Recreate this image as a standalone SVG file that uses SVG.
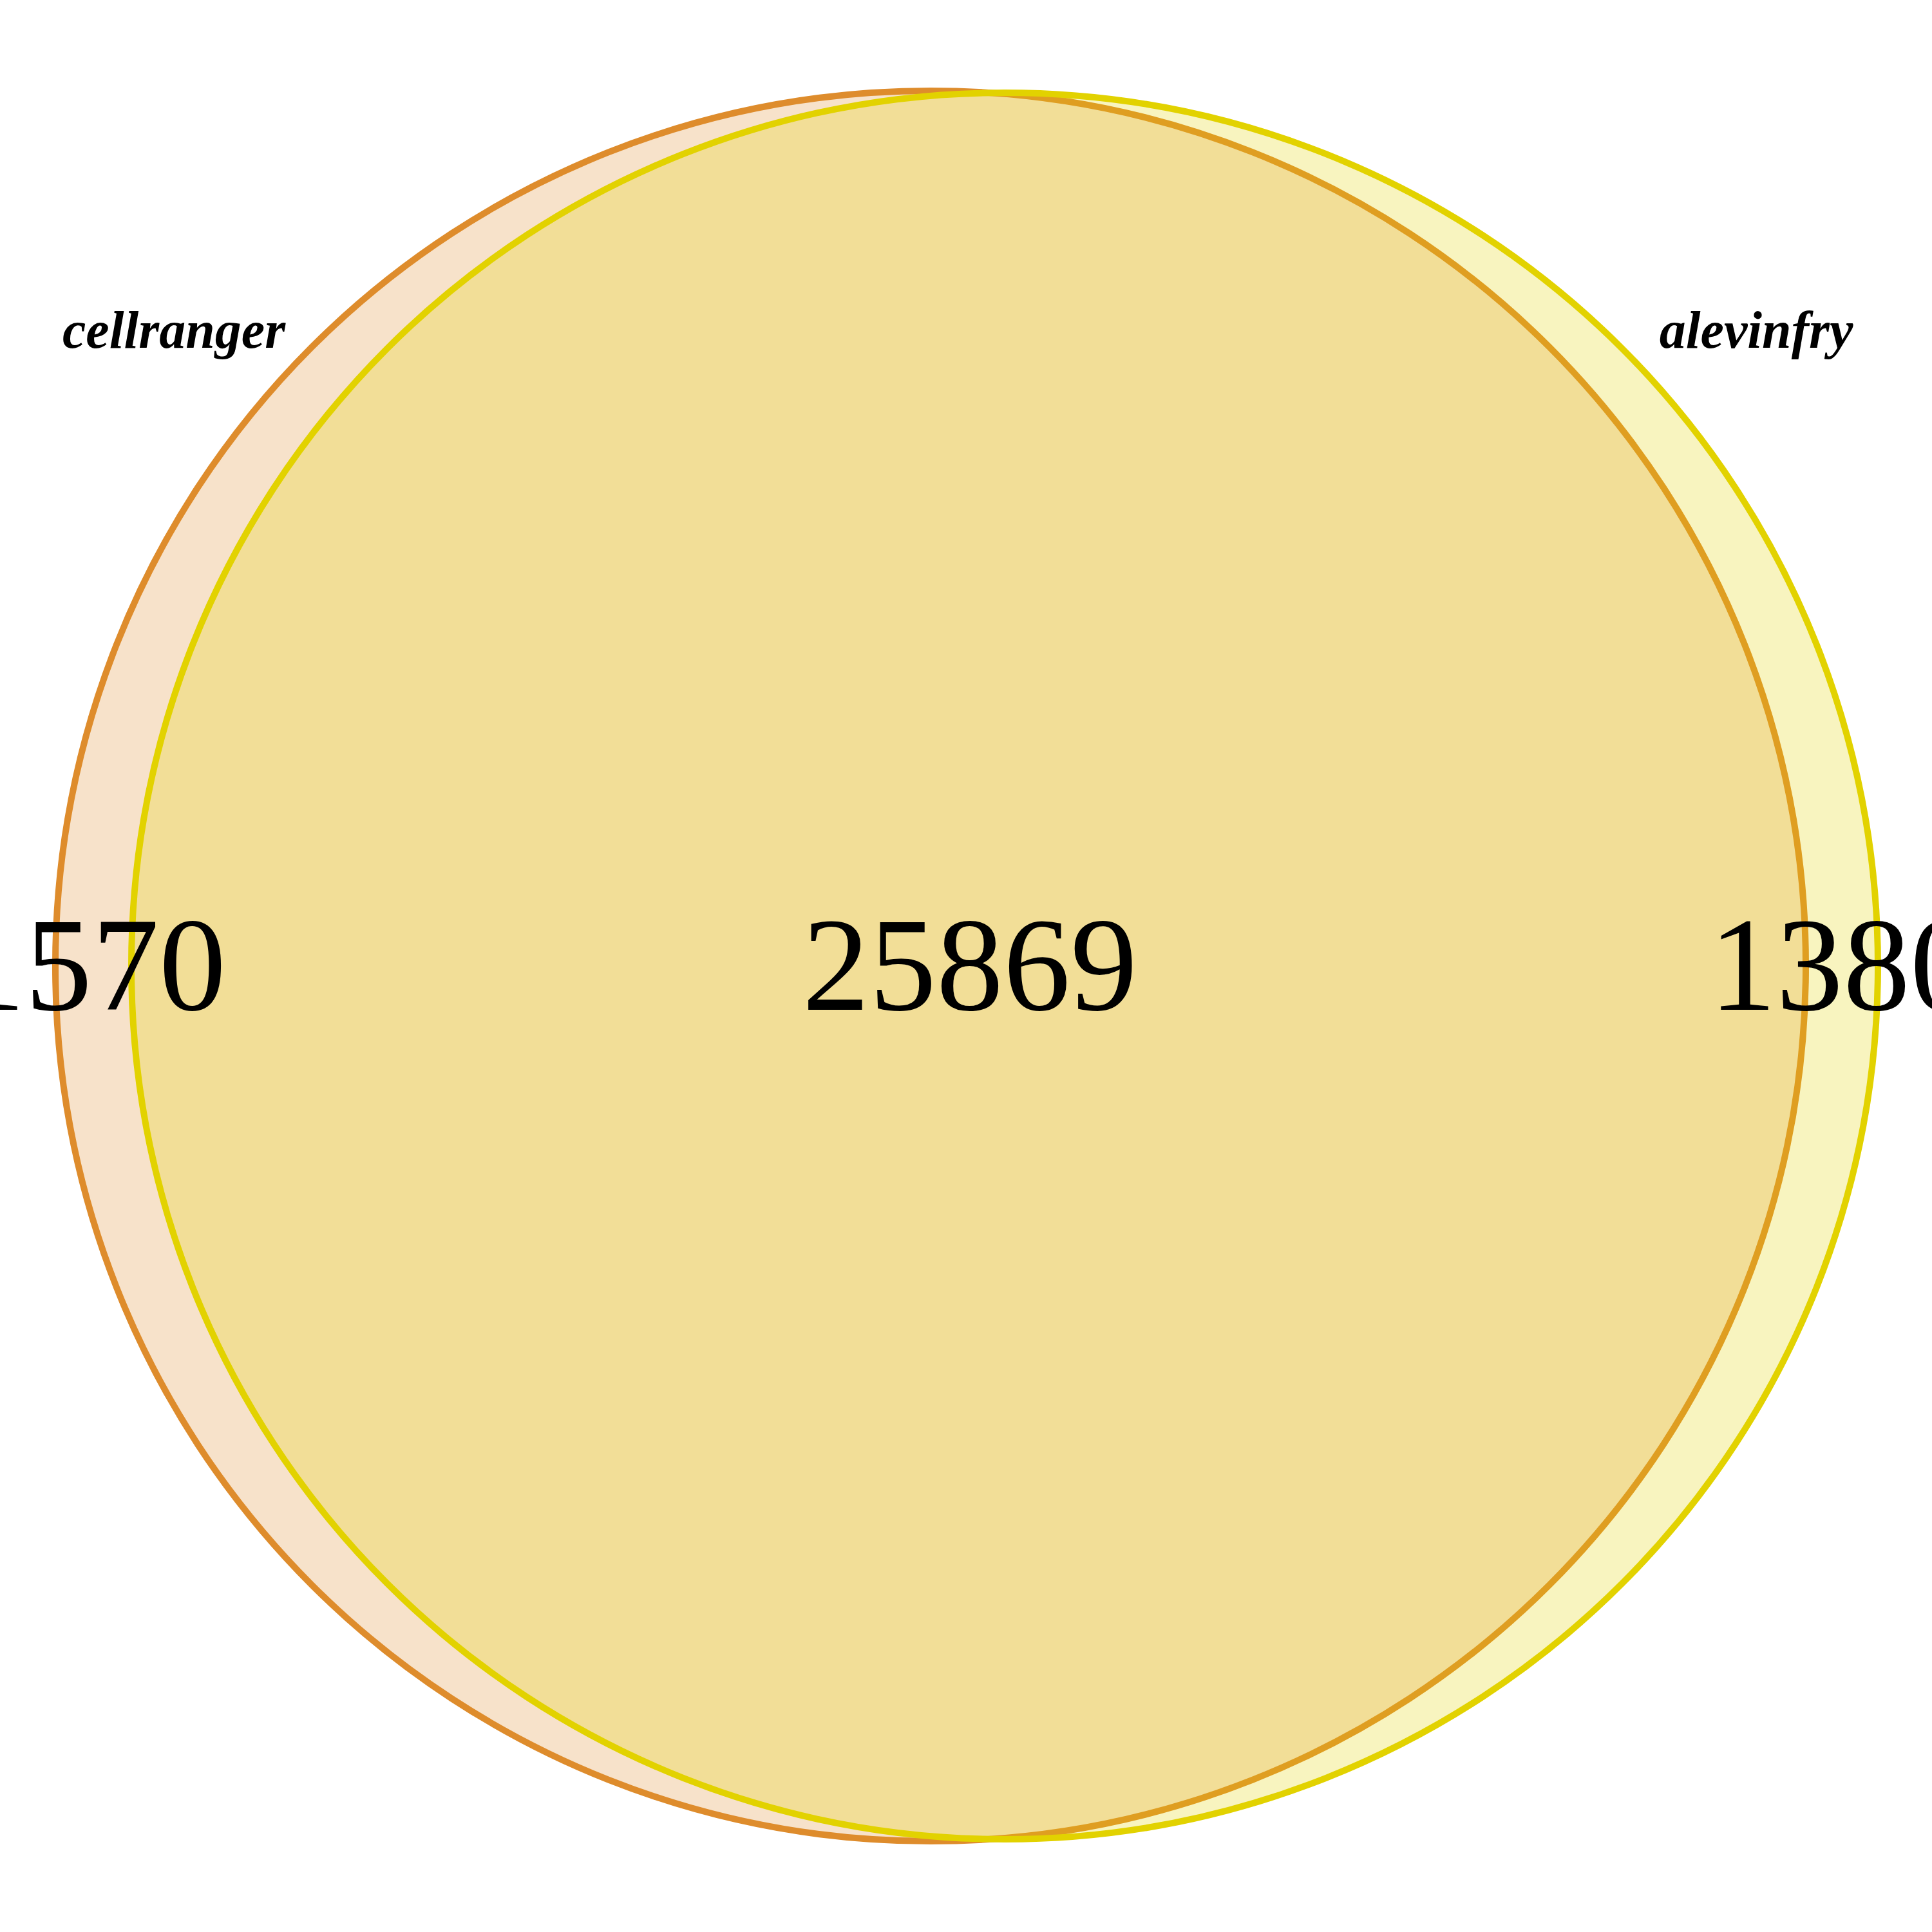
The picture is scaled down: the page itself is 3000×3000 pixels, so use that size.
<svg xmlns="http://www.w3.org/2000/svg" width="3000" height="3000" viewBox="0 0 3000 3000">
<style>
.set { stroke-width: 10; }
.num { font-family: "Liberation Serif", "Times New Roman", serif; font-size: 208px; fill: #000; text-anchor: middle; }
.lab { font-family: "Liberation Serif", "Times New Roman", serif; font-size: 82px; font-weight: bold; font-style: italic; fill: #000; text-anchor: middle; }
</style>
<rect width="3000" height="3000" fill="#ffffff"/>
<g id="cellranger">
<circle class="set" cx="1445" cy="1500" r="1359" fill="#DE8C2C" fill-opacity="0.25" stroke="#DE8C2C"/>
</g>
<g id="alevinfry">
<circle class="set" cx="1560" cy="1500" r="1356" fill="#E2D200" fill-opacity="0.25" stroke="#E2D200"/>
</g>
<g id="counts">
<text class="num" x="143" y="1568">1570</text>
<text class="num" x="1506" y="1568">25869</text>
<text class="num" x="2862" y="1568">1380</text>
</g>
<g id="labels">
<text class="lab" x="270" y="540">cellranger</text>
<text class="lab" x="2727" y="540">alevinfry</text>
</g>
</svg>
